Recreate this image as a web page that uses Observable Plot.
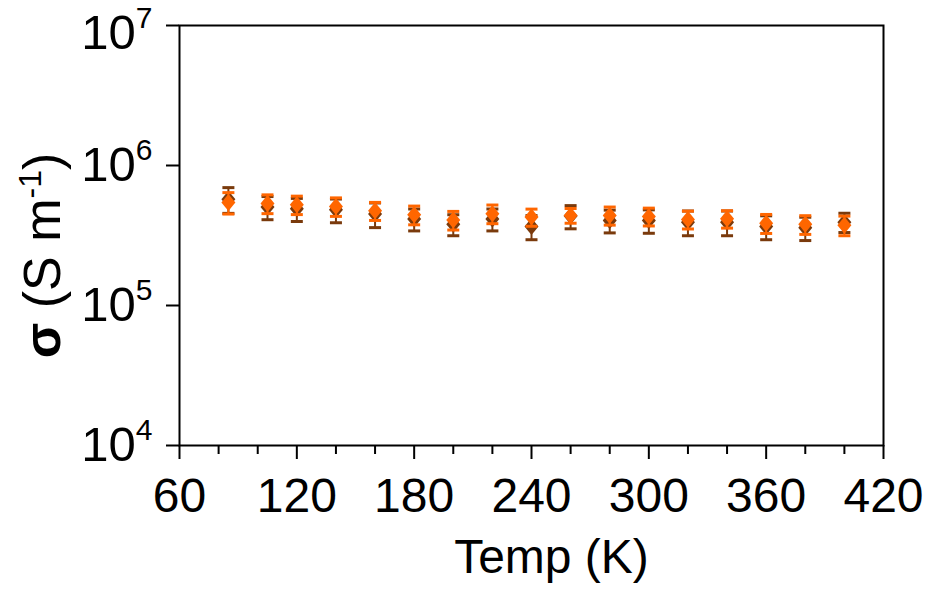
<!DOCTYPE html>
<html><head><meta charset="utf-8">
<script src="https://cdn.jsdelivr.net/npm/d3@7"></script>
<script src="https://cdn.jsdelivr.net/npm/@observablehq/plot@0.6"></script>
<style>body{margin:0;background:#fff}#chart{width:930px;height:592px}</style>
</head><body><div id="chart"></div>
<script>
// Temperatures (K)
const temps = [85,105,120,140,160,180,200,220,240,260,280,300,320,340,360,380,400];
// Series 1 (dark brown)
const sigmaBrown = [5.75e5,5.05e5,4.9e5,4.83e5,4.5e5,4.15e5,3.8e5,4.15e5,3.67e5,4.35e5,4.05e5,4.05e5,3.94e5,3.94e5,3.66e5,3.59e5,3.94e5];
const errBrown   = [1.2e5,0.95e5,0.92e5,0.93e5,0.9e5,0.74e5,0.65e5,0.74e5,0.72e5,0.82e5,0.75e5,0.77e5,0.79e5,0.79e5,0.71e5,0.68e5,0.62e5];
// Series 2 (orange)
const sigmaOrange = [5.45e5,5.35e5,5.25e5,5.1e5,4.75e5,4.45e5,4.08e5,4.53e5,4.28e5,4.4e5,4.4e5,4.33e5,4.12e5,4.16e5,3.87e5,3.8e5,3.75e5];
const errOrange   = [0.95e5,0.82e5,0.79e5,0.77e5,0.7e5,0.68e5,0.62e5,0.69e5,0.6e5,0.53e5,0.65e5,0.63e5,0.6e5,0.59e5,0.6e5,0.58e5,0.6e5];
// Axes
const xTicks = [60,120,180,240,300,360,420];
const xMinorTicks = [80,100,140,160,200,220,260,280,320,340,380,400];
const yTicks = [1e4,1e5,1e6,1e7];
const yTickLabels = ["10^4","10^5","10^6","10^7"];
const xLabel = "Temp (K)";
const yLabel = "σ (S m-1)";

const brown = "#7a3a0c";
const orange = "#ff6600";
const font = "'Liberation Sans', Arial, sans-serif";

const capSymbol = {draw(ctx){ctx.moveTo(-6,0);ctx.lineTo(6,0);}};
const diamondSymbol = {draw(ctx){ctx.moveTo(0,-8.5);ctx.lineTo(7,0);ctx.lineTo(0,8.5);ctx.lineTo(-7,0);ctx.closePath();}};

function rows(v, e){ return temps.map((t,i)=>({t, v:v[i], lo:v[i]-e[i], hi:v[i]+e[i]})); }
function seriesMarks(data, color){
  return [
    Plot.ruleX(data, {x:"t", y1:"lo", y2:"hi", stroke:color, strokeWidth:2}),
    Plot.dot(data, {x:"t", y:"hi", symbol:capSymbol, fill:"none", stroke:color, strokeWidth:3}),
    Plot.dot(data, {x:"t", y:"lo", symbol:capSymbol, fill:"none", stroke:color, strokeWidth:3}),
    Plot.dot(data, {x:"t", y:"v", symbol:diamondSymbol, fill:color, stroke:"none"})
  ];
}

const plot = Plot.plot({
  width: 930, height: 592,
  marginLeft: 179, marginRight: 47, marginTop: 25, marginBottom: 147,
  style: {fontFamily: font, background: "#fff", color: "#000"},
  x: {domain: [60,420]},
  y: {type: "log", domain: [1e4,1e7]},
  marks: [
    Plot.axisX({ticks: xTicks, tickSize: 14, tickPadding: 18, fontSize: 48, strokeWidth: 2, label: null, tickFormat: d => String(d)}),
    Plot.axisX({ticks: xMinorTicks, tickSize: 9, strokeWidth: 2, text: null, label: null}),
    Plot.axisY({ticks: yTicks, tickSize: 13, tickPadding: 14, fontSize: 49, strokeWidth: 2, label: null,
      tickFormat: d => yTickLabels[yTicks.indexOf(d)]}),
    ...seriesMarks(rows(sigmaBrown, errBrown), brown),
    ...seriesMarks(rows(sigmaOrange, errOrange), orange),
    Plot.frame({stroke: "#000", strokeWidth: 2}),
    Plot.text([xLabel], {frameAnchor: "bottom", text: d => d, dx: 20, dy: 127, fontSize: 48}),
    Plot.text([yLabel], {frameAnchor: "left", textAnchor: "middle", text: d => d, rotate: -90, dx: -136, dy: 20, fontSize: 52})
  ]
});
document.getElementById("chart").appendChild(plot);

// superscripts in y tick labels
const svg = d3.select(plot);
svg.selectAll('g[aria-label="y-axis tick label"] text').each(function(){
  const s = this.textContent; const [b, e] = s.split("^");
  const t = d3.select(this); t.text(null);
  t.append("tspan").text(b);
  t.append("tspan").attr("dy", -21).attr("font-size", 30).text(e);
  if (e === "7") t.attr("transform", (t.attr("transform")||"") + " translate(0,8)");
});
svg.selectAll("text").filter(function(){ return this.textContent === yLabel; }).each(function(){
  const t = d3.select(this); t.text(null);
  t.append("tspan").attr("font-weight", "bold").text("σ");
  t.append("tspan").text(" (S m");
  t.append("tspan").attr("dy", -19).attr("font-size", 32).text("-1");
  t.append("tspan").attr("dy", 19).text(")");
});
</script>
</body></html>
